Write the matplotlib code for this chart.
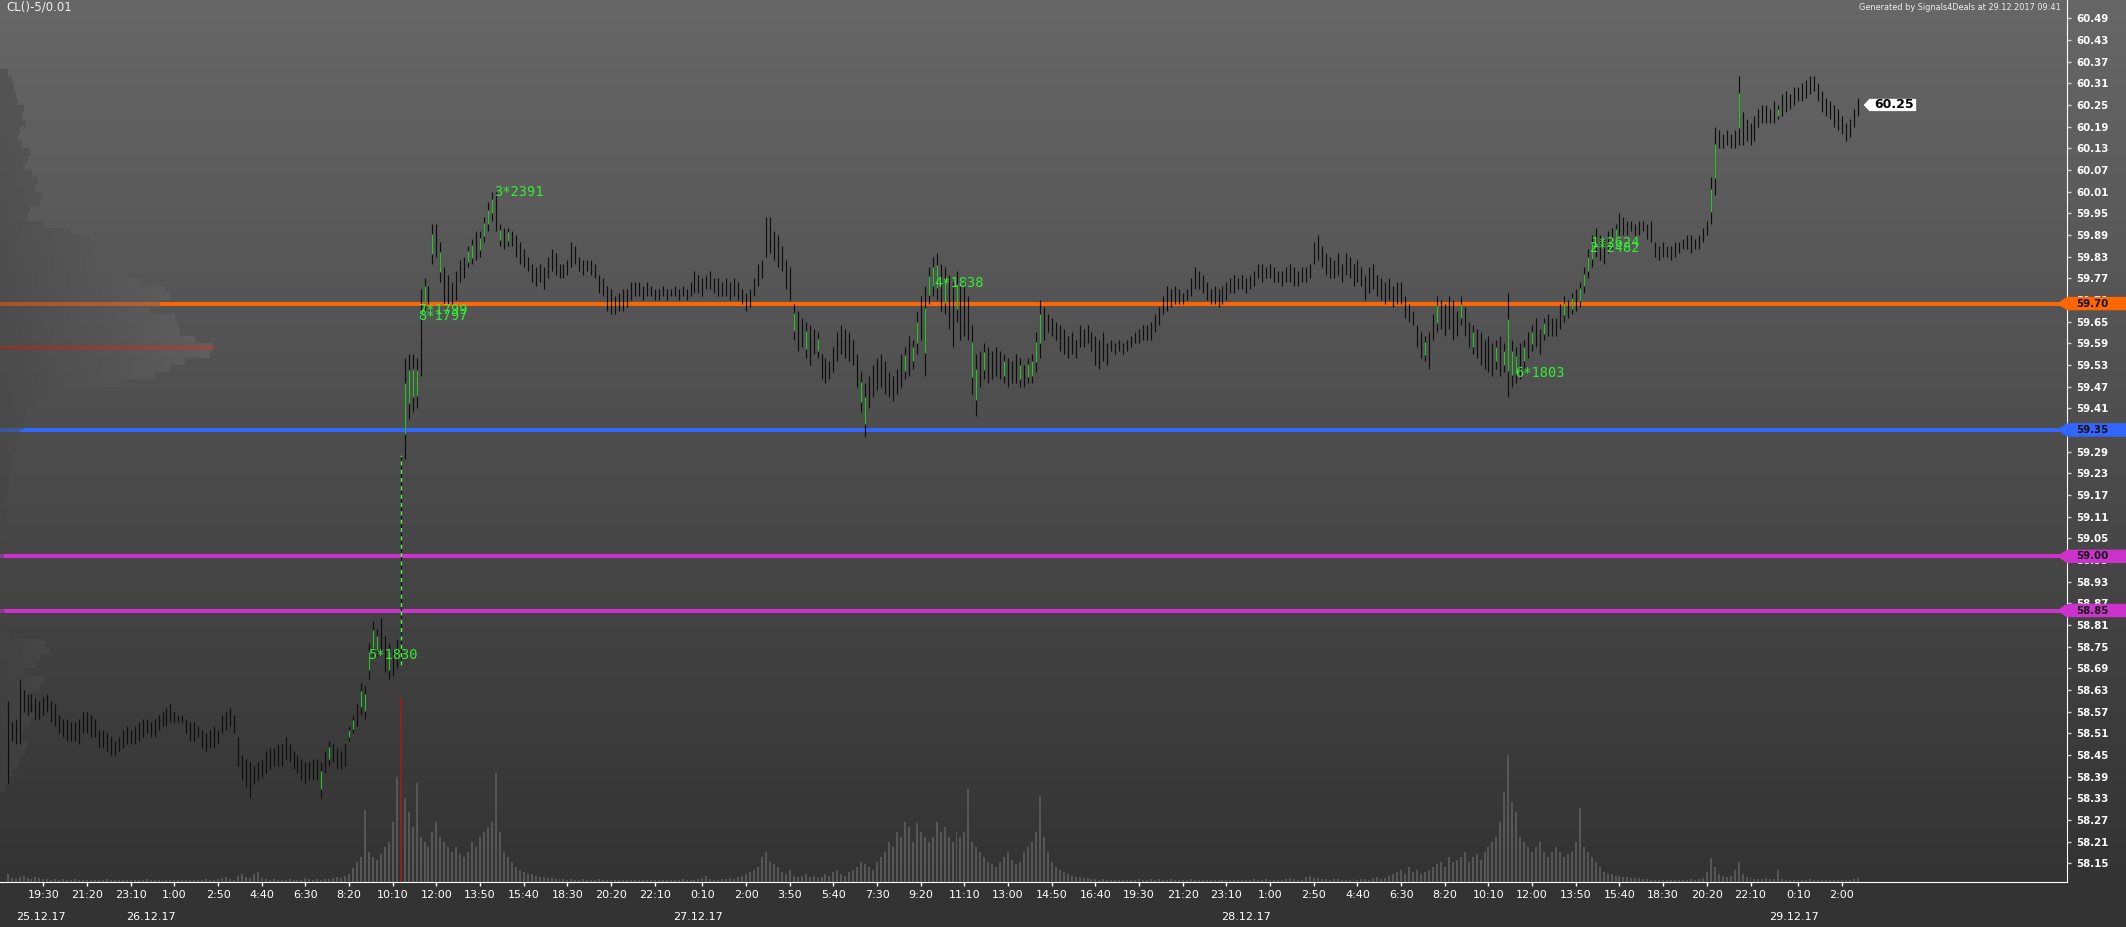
import numpy as np
import matplotlib
matplotlib.use("Agg")
import matplotlib.pyplot as plt
import matplotlib.transforms as mtransforms
from matplotlib.patches import Polygon
from matplotlib.path import Path

# ---------------- data (prices in cents above 58.00) ----------------
bar_high_c = [
    60,54,55,66,63,62,62,61,60,61, 62,60,59,56,55,55,54,54,55,57,
    57,56,55,52,52,51,50,49,50,52, 53,52,53,54,55,55,54,55,56,57,
    58,59,57,56,56,55,54,54,53,52, 51,52,53,52,56,57,58,56,50,45,
    44,43,42,43,44,46,47,47,48,48, 50,48,46,45,44,43,43,44,44,43,
    46,49,48,47,46,48,53,56,59,65, 64,76,82,80,83,78,76,74,77,128,
    155,156,156,155,174,177,175,192,192,187, 180,178,176,179,182,183,186,188,190,190,
    194,198,201,201,192,191,191,190,189,187, 185,183,181,180,181,180,183,185,184,181,
    181,182,187,186,183,182,182,182,181,178, 177,175,174,172,173,174,174,176,176,176,
    175,176,175,174,174,175,174,174,175,174, 175,174,176,179,178,177,178,179,177,177,
    176,177,176,177,176,174,173,174,177,181, 182,194,194,190,189,186,182,180,170,168,
    166,165,164,163,162,156,155,154,158,162, 164,163,162,160,156,151,148,150,153,155,
    156,154,151,150,152,156,158,161,160,168, 172,175,180,183,184,181,180,178,176,179,
    175,177,172,164,156,157,159,158,157,158, 157,156,155,154,156,155,153,155,156,162,
    171,169,167,166,165,164,163,161,162,160, 164,163,164,162,161,160,162,159,160,159,
    160,159,160,161,162,163,164,164,165,167, 169,172,175,174,175,174,173,174,177,180,
    179,178,176,174,175,174,175,176,177,178, 177,178,177,178,179,181,181,180,181,180,
    179,179,180,181,180,179,180,180,181,187, 189,186,184,183,182,184,181,184,183,181,
    182,180,178,180,181,178,177,176,177,175, 176,176,172,170,168,164,162,161,162,167,
    172,171,170,172,171,168,172,169,165,164, 163,162,160,161,159,160,161,159,173,160,
    158,159,160,162,164,166,163,166,167,166, 166,170,172,171,173,174,176,180,185,189,
    191,189,188,190,191,192,195,194,193,193, 192,193,193,192,193,187,186,187,186,186,
    187,187,188,189,189,188,189,191,193,205, 219,218,217,218,217,218,233,223,221,220,
    222,224,225,225,224,226,225,228,229,228, 230,230,231,232,233,233,231,229,227,226,
    225,224,222,220,221,224,227,
]
bar_low_c = [
    37,49,48,48,57,56,57,55,55,56, 57,54,53,51,50,49,49,49,48,51,
    51,50,50,47,47,46,45,45,46,47, 48,48,48,49,50,51,50,50,52,53,
    53,54,54,54,54,51,49,49,50,47, 46,47,47,48,51,52,53,51,42,38,
    36,33,37,38,39,40,41,42,42,42, 44,43,41,40,38,37,38,38,38,33,
    40,42,43,41,41,42,49,51,53,56, 55,66,72,72,74,68,66,67,69,70,
    127,138,140,141,150,168,170,181,183,176, 170,170,170,171,176,177,180,181,182,183,
    187,190,193,190,186,185,186,186,183,181, 180,179,176,175,176,174,177,179,178,177,
    177,178,180,181,179,178,179,178,177,173, 172,168,167,167,168,168,169,171,172,172,
    171,172,172,171,171,172,171,172,172,171, 172,171,172,173,173,172,174,174,173,172,
    172,172,171,172,171,170,168,169,172,175, 177,183,184,182,180,179,174,171,160,157,
    158,155,153,156,155,149,148,149,151,154, 156,155,154,153,147,140,133,141,144,146,
    147,145,144,143,145,147,149,150,152,156, 160,150,170,172,171,168,167,163,158,165,
    160,161,160,145,139,147,149,148,149,150, 149,148,147,148,148,147,147,148,148,151,
    155,160,162,161,160,157,156,155,156,155, 158,158,159,157,153,152,154,153,157,156,
    157,156,157,158,159,159,160,160,160,162, 164,167,168,169,170,170,170,171,172,174,
    174,173,171,170,170,169,170,171,173,173, 174,174,173,174,175,177,176,177,177,176,
    176,175,176,176,175,175,176,176,177,181, 182,180,178,177,177,178,176,178,177,175,
    176,175,171,173,174,172,171,170,171,169, 170,170,166,165,164,158,155,154,152,160,
    162,163,161,163,160,161,164,161,158,156, 155,153,152,151,150,152,150,151,144,147,
    148,149,152,155,157,158,156,160,161,161, 161,163,165,166,167,168,169,173,177,180,
    183,182,181,184,185,187,189,189,189,190, 189,189,190,188,187,183,182,183,183,182,
    183,184,185,185,184,185,185,187,189,192, 200,213,213,214,213,213,214,214,215,214,
    215,219,220,220,220,220,221,222,223,224, 225,226,226,227,228,229,226,223,222,221,
    219,218,217,215,216,219,222,
]
last_close = 60.25

volume = [
    8,4,3,5,6,4,3,5,4,3, 3,2,3,2,3,2,2,3,2,2, 2,2,2,2,2,3,2,2,2,2, 2,2,2,2,2,3,2,2,2,2,
    2,2,2,2,2,2,2,2,2,2, 3,2,2,3,4,5,3,2,6,8, 5,4,8,10,4,3,2,3,2,2, 2,3,2,2,2,4,3,2,3,2,
    3,3,4,5,4,6,8,14,20,25, 72,30,25,22,28,35,40,60,105,185, 84,70,55,99,45,40,35,50,60,45,
    40,35,30,35,28,25,30,40,35,45, 50,55,60,109,50,30,25,20,15,12, 10,8,8,6,5,5,4,4,3,3,
    3,2,3,2,2,3,2,2,2,3, 2,2,2,2,2,2,2,2,2,2, 2,2,2,2,2,2,2,2,2,2, 3,2,2,2,3,4,6,3,2,2,
    3,3,4,3,5,6,8,10,12,15, 25,30,20,18,15,10,8,12,6,5, 6,8,5,6,4,5,8,6,10,12,
    8,6,10,12,15,20,18,15,12,20, 25,30,40,35,50,45,60,55,40,59, 50,45,40,45,60,50,55,45,40,50,
    45,50,93,40,35,30,25,20,18,15, 20,25,30,22,18,20,30,35,40,50, 86,45,30,20,15,12,10,8,6,5,
    5,4,4,3,3,2,3,2,2,2, 2,2,2,2,2,3,2,2,3,2, 3,2,2,3,2,2,2,2,3,2, 2,2,2,2,2,2,2,2,2,2,
    2,2,2,2,3,2,2,3,2,2, 2,2,3,4,3,2,2,5,6,4, 4,3,3,2,3,3,2,2,2,3, 2,3,3,2,4,5,3,4,6,8,
    10,12,8,15,10,12,8,10,12,15, 18,20,15,25,20,22,25,30,20,25, 28,22,30,35,40,45,60,90,127,80,
    70,45,40,35,30,35,40,30,25,30, 35,30,25,28,30,40,74,35,30,25, 20,15,10,8,8,6,6,5,5,4,
    4,4,3,3,2,2,2,2,2,2, 2,2,2,2,3,2,3,4,10,24, 15,8,6,5,6,12,20,8,5,4,
    3,3,3,4,3,3,12,3,2,2, 2,2,2,2,3,2,2,2,2,2, 2,2,2,2,2,3,4,
]

green_bars = [79, 81, 86, 87, 89, 90, 91, 92, 93, 96, 100, 101, 102, 103, 105, 107, 109,
              116, 117, 119, 120, 121, 122, 124, 126, 198, 201, 204, 215, 216, 226, 228,
              229, 231, 232, 233, 234, 236, 239, 243, 244, 246, 251, 255, 257, 258, 259,
              260, 357, 360, 366, 369, 375, 377, 378, 379, 380, 382, 384, 387, 392, 394,
              396, 397, 398, 399, 405, 429, 430, 436, 446]
dashed_bar = 99

# volume profile (left), price levels starting at 58.36 every 0.02
profile_start = 58.36
profile_step = 0.02
profile_vol = [
    5,8,12,18,20,25,28,22,25,30, 35,28,38,30,40,45,25,35,40,50,
    45,10,6,8,5,4,5,3,4,3, 4,3,4,3,5,4,6,5,7,6,
    8,7,10,9,12,11,14,16,18,20, 23,25,27,35,50,62,120,155,170,185,
    210,213,195,180,178,175,150,160,170,165, 140,125,118,100,112,105,90,70,45,27,
    30,40,43,35,38,32,25,28,30,22, 18,20,26,22,24,18,16,14,12,8,
]

levels = [59.70, 59.35, 59.00, 58.85]
level_colors = ["#ff6600", "#3366ff", "#cc33cc", "#cc33cc"]

ytick_vals = [round(58.15 + 0.06 * k, 2) for k in range(40)]
xtick_idx = [9, 20, 31, 42, 53, 64, 75, 86, 97, 108, 119, 130, 141, 152, 163, 175, 186,
             197, 208, 219, 230, 241, 252, 263, 274, 285, 296, 307, 318, 329, 340, 351,
             362, 373, 384, 395, 406, 417, 428, 439, 451, 462]
xtick_labels = ['19:30', '21:20', '23:10', '1:00', '2:50', '4:40', '6:30', '8:20', '10:10',
                '12:00', '13:50', '15:40', '18:30', '20:20', '22:10', '0:10', '2:00', '3:50',
                '5:40', '7:30', '9:20', '11:10', '13:00', '14:50', '16:40', '19:30', '21:20',
                '23:10', '1:00', '2:50', '4:40', '6:30', '8:20', '10:10', '12:00', '13:50',
                '15:40', '18:30', '20:20', '22:10', '0:10', '2:00']
date_pos = [8.5, 36, 174, 312, 450]
date_labels = ['25.12.17', '26.12.17', '27.12.17', '28.12.17', '29.12.17']

annotations = [
    (90.8, 58.727, '5*1830'),
    (103.4, 59.682, '7*1799'),
    (103.4, 59.665, '8*1797'),
    (122.5, 60.010, '3*2391'),
    (233.3, 59.757, '4*1838'),
    (379.7, 59.508, '6*1803'),
    (398.6, 59.868, '1*2624'),
    (398.6, 59.854, '2*2482'),
]

# ---------------- layout ----------------
W, H, DPI = 2126, 927, 100
PLOT_R, PLOT_B = 2067, 882
PX_PER_BAR, X0_PX = 3.97, 7.67
PX_PER_PRICE = 361.1
YTOP = 60.49 + 18.3 / PX_PER_PRICE
YBOT = YTOP - PLOT_B / PX_PER_PRICE
XL = -X0_PX / PX_PER_BAR
XR = (PLOT_R - X0_PX) / PX_PER_BAR

hi = 58.0 + np.array(bar_high_c) / 100.0
lo = 58.0 + np.array(bar_low_c) / 100.0
idx = np.arange(len(hi))

fig = plt.figure(figsize=(W / DPI, H / DPI), dpi=DPI)
fig.patch.set_facecolor("#333333")

# background gradient
bg = fig.add_axes([0, 0, 1, 1])
bg.set_zorder(-10)
g = np.linspace(0, 1, 256)[:, None]
top = np.array([0x67, 0x67, 0x67]) / 255.0
bot = np.array([0x33, 0x33, 0x33]) / 255.0
grad = top[None, :] * (1 - g) + bot[None, :] * g
bg.imshow(grad[:, None, :], extent=[0, W, PLOT_B, 0], aspect="auto", interpolation="bilinear")
bg.set_xlim(0, W)
bg.set_ylim(H, 0)
bg.axis("off")

ax = fig.add_axes([0, (H - PLOT_B) / H, PLOT_R / W, PLOT_B / H])
axv = ax.twinx()
axv.set_zorder(1)
ax.set_zorder(2)
ax.patch.set_visible(False)
axv.patch.set_visible(False)

# volume bars
vol = np.array(volume, dtype=float)
vcols = ["#575757"] * len(vol)
vcols[int(np.argmax(vol))] = "#8e2222"
axv.bar(idx, vol, width=0.5, color=vcols, linewidth=0)
axv.set_ylim(0, PLOT_B)
axv.axis("off")

# level lines
for lv, col in zip(levels, level_colors):
    ax.axhline(lv, color=col, lw=2.9, zorder=1)

# volume profile with gradient, clipped to bars
pv = np.array(profile_vol, dtype=float)
pp = profile_start + profile_step * np.arange(len(pv))
maxw_px = 213
pw = pv / pv.max() * maxw_px / PX_PER_BAR
poc = pp[int(np.argmax(pv))]
ax.hlines(poc, XL, XL + pw.max(), color="#d42020", lw=2.2, zorder=1.2)
polys = np.array([[(XL, p - profile_step / 2), (XL + w, p - profile_step / 2),
                   (XL + w, p + profile_step / 2), (XL, p + profile_step / 2)]
                  for p, w in zip(pp, pw)])
clip = Path.make_compound_path_from_polys(polys)
gx = np.linspace(0, 1, 256)
rgba = np.zeros((1, 256, 4))
c0, c1 = 0.27, 0.44
rgba[0, :, 0] = rgba[0, :, 1] = rgba[0, :, 2] = c0 + (c1 - c0) * gx
rgba[0, :, 3] = 0.5
im = ax.imshow(rgba, extent=[XL, XL + 230 / PX_PER_BAR, YBOT, YTOP], aspect="auto",
               interpolation="bilinear", zorder=1.5)
im.set_clip_path(clip, ax.transData)

# price bars
ax.vlines(idx, lo, hi, colors="#0e0e0e", lw=0.85, zorder=4)
gb = np.array(green_bars)
ax.vlines(gb, lo[gb] + 0.25 * (hi[gb] - lo[gb]), lo[gb] + 0.75 * (hi[gb] - lo[gb]),
          colors="#2cc02c", lw=0.85, zorder=4.5)
ax.vlines([dashed_bar], [lo[dashed_bar]], [hi[dashed_bar]], colors="#44ff44", lw=1.0,
          linestyles=(0, (3, 3)), zorder=4.6)

for xa, ya, s in annotations:
    ax.text(xa, ya, s, color="#33ee33", fontsize=9.8, family="DejaVu Sans Mono",
            va="center", ha="left", zorder=6)

# axes formatting
ax.set_xlim(XL, XR)
ax.set_ylim(YBOT, YTOP)
ax.set_aspect("auto")
for s in ["left", "top"]:
    ax.spines[s].set_visible(False)
for s in ["right", "bottom"]:
    ax.spines[s].set_color("white")
    ax.spines[s].set_linewidth(0.8)
ax.yaxis.tick_right()
ax.set_yticks(ytick_vals)
ax.set_yticklabels([f"{v:.2f}" for v in ytick_vals])
ax.tick_params(axis="y", direction="out", length=3, width=1, color="#cfcfcf",
               labelcolor="white", labelsize=7.4, pad=3.5)
for lbl in ax.get_yticklabels():
    lbl.set_fontweight("bold")
ax.set_xticks(xtick_idx)
ax.set_xticklabels(xtick_labels)
ax.tick_params(axis="x", direction="out", length=3, width=1, color="white",
               labelcolor="white", labelsize=8, pad=3)

for dp, dl in zip(date_pos, date_labels):
    ax.annotate(dl, xy=(dp, 0), xycoords=("data", "axes fraction"),
                xytext=(0, -35 * 72 / DPI), textcoords="offset points",
                ha="center", va="center", color="white", fontsize=8,
                annotation_clip=False)

# level boxes on the price scale
blend = mtransforms.blended_transform_factory(ax.transAxes, ax.transData)
for lv, col in zip(levels, level_colors):
    tr = fig.dpi_scale_trans + mtransforms.ScaledTranslation(1.0, lv, blend)
    verts = np.array([(-10, 0), (0, 6.7), (60, 6.7), (60, -6.7), (0, -6.7)]) / DPI
    ax.add_artist(Polygon(verts, closed=True, transform=tr, facecolor=col,
                          edgecolor="none", zorder=7, clip_on=False))
    ax.text(9.5 / DPI, 0, f"{lv:.2f}", transform=tr, ha="left", va="center",
            fontsize=7.4, fontweight="bold", color="#111111", zorder=8, clip_on=False)

# last price box
tr = fig.dpi_scale_trans + mtransforms.ScaledTranslation(idx[-1], last_close, ax.transData)
verts = np.array([(5.3, 0), (11.5, 6.7), (59, 6.7), (59, -6.7), (11.5, -6.7)]) / DPI
ax.add_artist(Polygon(verts, closed=True, transform=tr, facecolor="white",
                      edgecolor="#555555", lw=0.6, zorder=7, clip_on=False))
ax.text(36 / DPI, 0, f"{last_close:.2f}", transform=tr, ha="center", va="center",
        fontsize=9, fontweight="bold", color="black", zorder=8, clip_on=False)

fig.text(6 / W, 1 - 7.5 / H, "CL()-5/0.01", color="#f0f0f0", fontsize=8.5,
         ha="left", va="center")
fig.text(2061 / W, 1 - 7 / H, "Generated by Signals4Deals at 29.12.2017 09:41",
         color="#f0f0f0", fontsize=5.9, ha="right", va="center")

fig.savefig("out.png", dpi=DPI, facecolor=fig.get_facecolor())
